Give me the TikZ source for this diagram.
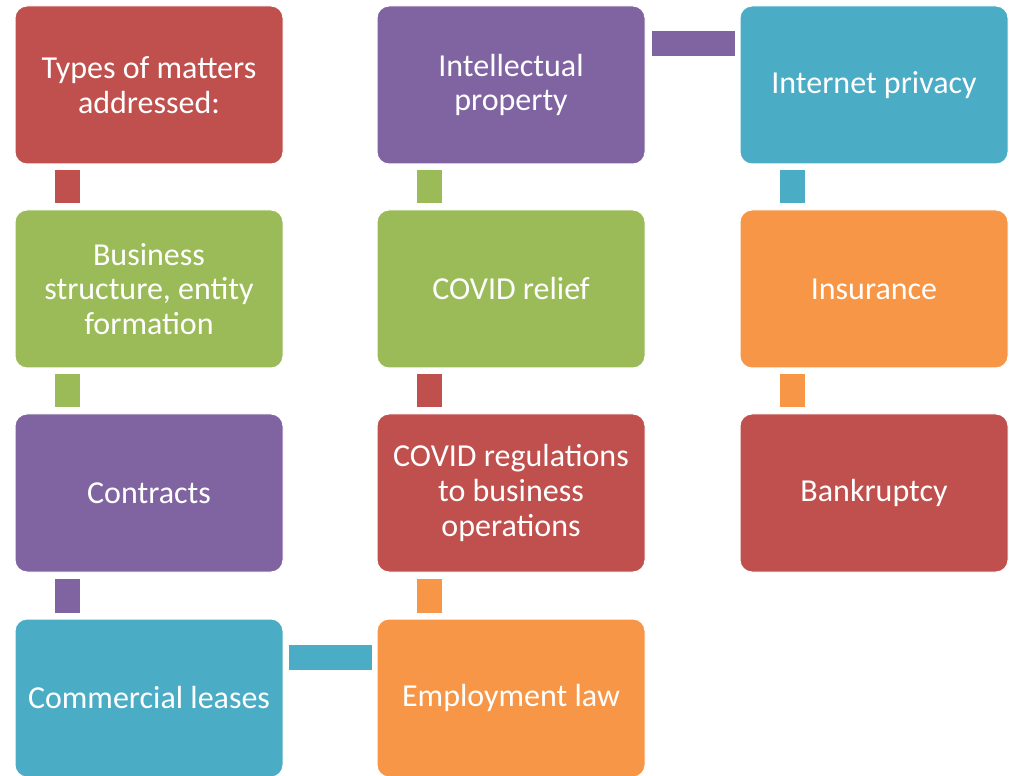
\documentclass[tikz,border=0pt]{standalone}
\usepackage{fontspec}
\setmainfont{Carlito}
\definecolor{ored}{HTML}{C0504D}
\definecolor{ogreen}{HTML}{9BBB59}
\definecolor{opurple}{HTML}{8064A2}
\definecolor{ocyan}{HTML}{4BACC6}
\definecolor{oorange}{HTML}{F79646}
\tikzset{
  item/.style={draw=white, line width=0.75pt, rounded corners=9pt,
    minimum width=201pt, minimum height=118.5pt, inner sep=0pt,
    text=white, align=center, font=\fontsize{24}{25.9}\selectfont},
  link/.style={line width=18.75pt},
}
\begin{document}
\begin{tikzpicture}[x=0.75pt,y=0.75pt]
\useasboundingbox (0,0) rectangle (1009,775);
% first column
\node[item,fill=ored] (tmatter) at (149,690) {Types of matters\\addressed:};
\node[item,fill=ogreen] (bizstruct) at (149,486) {Business\\structure, entity\\formation};
\node[item,fill=opurple] (contracts) at (149,282) {Contracts};
\node[item,fill=ocyan] (leases) at (149,77) {Commercial leases};
% second column
\node[item,fill=oorange] (employ) at (511,77) {Employment law};
\node[item,fill=ored] (covidreg) at (511,282) {COVID regulations\\to business\\operations};
\node[item,fill=ogreen] (covidrelief) at (511,486) {COVID relief};
\node[item,fill=opurple] (ip) at (511,690) {Intellectual\\property};
% third column
\node[item,fill=ocyan] (privacy) at (874,690) {Internet privacy};
\node[item,fill=oorange] (insur) at (874,486) {Insurance};
\node[item,fill=ored] (bankr) at (874,282) {Bankruptcy};
% links
\draw[link,ored] ([shift={(52.5,-6)}]tmatter.south west) -- ([shift={(52.5,6)}]bizstruct.north west);
\draw[link,ogreen] ([shift={(52.5,-6)}]bizstruct.south west) -- ([shift={(52.5,6)}]contracts.north west);
\draw[link,opurple] ([shift={(52.5,-6)}]contracts.south west) -- ([shift={(52.5,6)}]leases.north west);
\draw[link,ocyan] ([shift={(5,-38.5)}]leases.north east) -- ([shift={(-5,-38.5)}]employ.north west);
\draw[link,oorange] ([shift={(52.5,6)}]employ.north west) -- ([shift={(52.5,-6)}]covidreg.south west);
\draw[link,ored] ([shift={(52.5,6)}]covidreg.north west) -- ([shift={(52.5,-6)}]covidrelief.south west);
\draw[link,ogreen] ([shift={(52.5,6)}]covidrelief.north west) -- ([shift={(52.5,-6)}]ip.south west);
\draw[link,opurple] ([shift={(6,-38.5)}]ip.north east) -- ([shift={(-5,-38.5)}]privacy.north west);
\draw[link,ocyan] ([shift={(52.5,-6)}]privacy.south west) -- ([shift={(52.5,6)}]insur.north west);
\draw[link,oorange] ([shift={(52.5,-6)}]insur.south west) -- ([shift={(52.5,6)}]bankr.north west);
\end{tikzpicture}
\end{document}
